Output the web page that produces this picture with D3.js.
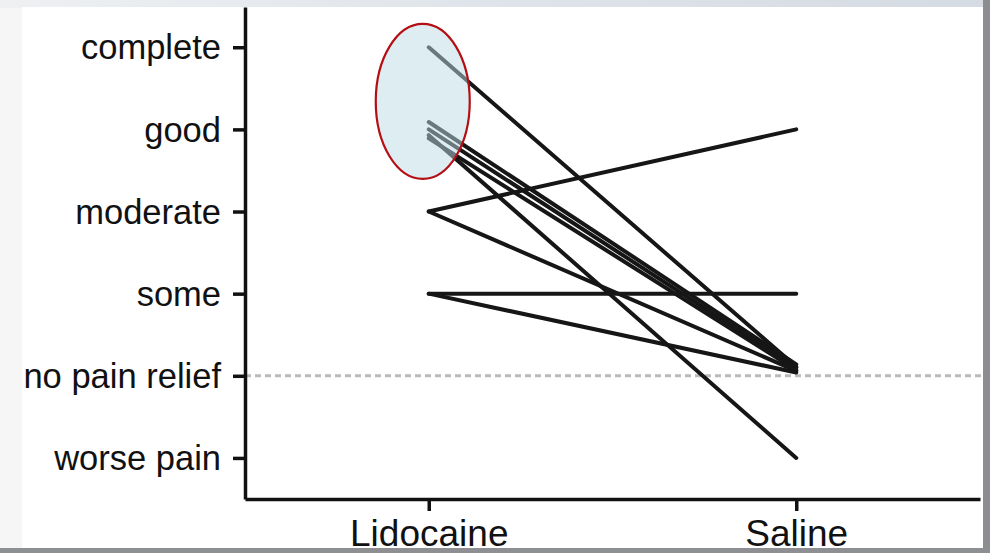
<!DOCTYPE html>
<html>
<head>
<meta charset="utf-8">
<script src="https://cdn.jsdelivr.net/npm/d3@7"></script>
<style>
  html, body { margin: 0; padding: 0; background: #e9ecef; }
  svg { display: block; }
  text { font-family: "Liberation Sans", Arial, Helvetica, sans-serif; }
</style>
</head>
<body>
<svg id="chart" width="990" height="553"></svg>
<script>
// Pain relief scale (ordinal score -> label)
const levelScores = [-1, 0, 1, 2, 3, 4];
const levelLabels = ["worse pain", "no pain relief", "some", "moderate", "good", "complete"];

// Treatment arms
const treatments = ["Lidocaine", "Saline"];

// Paired ratings per patient (jittered slightly so overlapping lines stay visible)
const patients   = ["P1", "P2", "P3", "P4", "P5", "P6", "P7", "P8", "P9"];
const lidocaine  = [4.00, 3.09, 3.00, 2.93, 2.89, 2.00, 2.00, 1.00, 1.00];
const saline     = [0.11, 0.14, 0.10, -1.00, 0.07, 3.00, 0.06, 1.00, 0.04];

// Reference line at "no pain relief"
const referenceScore = 0;

const svg = d3.select("#chart");
const W = 990, H = 553;

// Slide backdrop
const defs = svg.append("defs");
const leftGrad = defs.append("linearGradient").attr("id", "leftShade")
  .attr("x1", 0).attr("x2", 1).attr("y1", 0).attr("y2", 0);
leftGrad.append("stop").attr("offset", "0%").attr("stop-color", "#f6f6f6");
leftGrad.append("stop").attr("offset", "100%").attr("stop-color", "#e8e8e8");
const topGrad = defs.append("linearGradient").attr("id", "topShade")
  .attr("x1", 0).attr("x2", 1).attr("y1", 0).attr("y2", 0);
topGrad.append("stop").attr("offset", "0%").attr("stop-color", "#eef0f2");
topGrad.append("stop").attr("offset", "50%").attr("stop-color", "#dfe4ea");
topGrad.append("stop").attr("offset", "100%").attr("stop-color", "#d5dbe2");

svg.append("rect").attr("width", W).attr("height", H).attr("fill", "url(#leftShade)");
svg.append("rect").attr("width", W).attr("height", 8).attr("fill", "url(#topShade)");
svg.append("rect").attr("x", 983).attr("y", 0).attr("width", 7).attr("height", H).attr("fill", "#8b8d91");
svg.append("rect").attr("x", 0).attr("y", 548).attr("width", W).attr("height", 5).attr("fill", "#8e8f92");

// White chart panel
svg.append("rect").attr("x", 22).attr("y", 7).attr("width", 961).attr("height", 541).attr("fill", "#ffffff");

const panel = svg.append("g");
panel.append("clipPath").attr("id", "panelClip")
  .append("rect").attr("x", 22).attr("y", 7).attr("width", 961).attr("height", 541);
const g = panel.append("g").attr("clip-path", "url(#panelClip)");

// Scales
const x = d3.scalePoint().domain(treatments).range([245, 980]).padding(0.5);
const y = d3.scaleLinear().domain([-1.5, 4.49]).range([499, 7]);

// Dashed reference line
g.append("line")
  .attr("x1", 245).attr("x2", 983)
  .attr("y1", y(referenceScore)).attr("y2", y(referenceScore))
  .attr("stroke", "#bababa").attr("stroke-width", 3)
  .attr("stroke-dasharray", "6,4");

// Patient lines
const line = d3.line().x(d => x(d.t)).y(d => y(d.v));
const pairs = patients.map((p, i) => [
  { t: treatments[0], v: lidocaine[i] },
  { t: treatments[1], v: saline[i] }
]);
g.append("g").selectAll("path").data(pairs).join("path")
  .attr("d", line)
  .attr("fill", "none")
  .attr("stroke", "#161616")
  .attr("stroke-width", 4)
  .attr("stroke-linecap", "round")
  .attr("stroke-linejoin", "round");

// Axes
const yAxis = d3.axisLeft(y)
  .tickValues(levelScores)
  .tickFormat((d, i) => levelLabels[i])
  .tickSize(12).tickSizeOuter(0).tickPadding(12);
const xAxis = d3.axisBottom(x).tickSize(12).tickSizeOuter(0).tickPadding(8);

const yG = g.append("g").attr("transform", "translate(245,0)").call(yAxis);
const xG = g.append("g").attr("transform", `translate(0,${499})`).call(xAxis);

[yG, xG].forEach(a => {
  a.select(".domain").attr("stroke", "#111").attr("stroke-width", 3.5);
  a.selectAll(".tick line").attr("stroke", "#111").attr("stroke-width", 3.5);
  a.selectAll(".tick text").attr("fill", "#111")
    .attr("font-family", "'Liberation Sans', Arial, sans-serif");
});
yG.selectAll(".tick text").attr("font-size", 34.5).attr("dy", "0.34em");
xG.selectAll(".tick text").attr("font-size", 37).attr("dy", "0.72em");

// Highlight around the top Lidocaine ratings
g.append("ellipse")
  .attr("cx", x("Lidocaine") - 6)
  .attr("cy", y(3.34))
  .attr("rx", 47).attr("ry", 77.5)
  .attr("fill", "rgb(188,220,228)").attr("fill-opacity", 0.5)
  .attr("stroke", "#b40f14").attr("stroke-width", 2.2);
</script>
</body>
</html>
